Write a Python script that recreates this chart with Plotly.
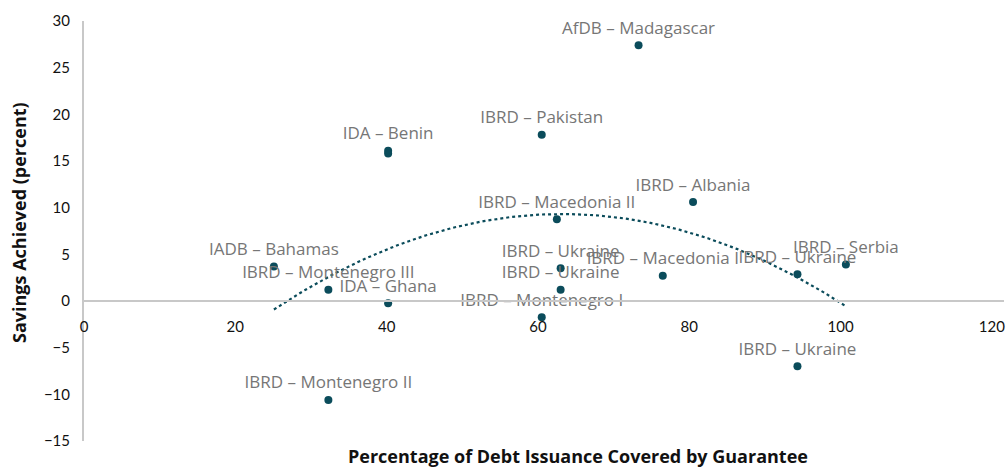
import numpy as np
import plotly.graph_objects as go

labels = ["AfDB – Madagascar", "IBRD – Pakistan", "IDA – Benin", "", "IBRD – Macedonia II",
          "IBRD – Albania", "IBRD – Serbia", "IBRD – Ukraine", "IBRD – Ukraine",
          "IBRD – Macedonia I", "IBRD – Ukraine", "IBRD – Ukraine", "IBRD – Montenegro I",
          "IDA – Ghana", "IBRD – Montenegro III", "IADB – Bahamas", "IBRD – Montenegro II"]
coverage = [73.3, 60.5, 40.2, 40.2, 62.5, 80.5, 100.7, 94.3, 94.3, 76.5, 63.0, 63.0, 60.5,
            40.2, 32.3, 25.1, 32.3]
savings = [27.4, 17.8, 16.1, 15.8, 8.75, 10.6, 3.9, 2.86, -7.0, 2.7, 3.5, 1.2, -1.75,
           -0.25, 1.2, 3.7, -10.6]

x_ticks = [0, 20, 40, 60, 80, 100, 120]
y_ticks = [-15, -10, -5, 0, 5, 10, 15, 20, 25, 30]

dot_color = "#0b4c5b"
tick_font = "Lato, 'Open Sans', sans-serif"
label_font = "'Open Sans', Lato, sans-serif"

# 2nd-order polynomial trendline fitted to the data
coef = np.polyfit(coverage, savings, 2)
tx = np.linspace(min(coverage), max(coverage), 200)
ty = np.polyval(coef, tx)

fig = go.Figure()
fig.add_trace(go.Scatter(x=tx, y=ty, mode="lines",
                         line=dict(color=dot_color, width=2.2, dash="dot"),
                         hoverinfo="skip", showlegend=False))
fig.add_trace(go.Scatter(x=coverage, y=savings, mode="markers",
                         marker=dict(color=dot_color, size=8),
                         showlegend=False, cliponaxis=False))
fig.add_trace(go.Scatter(x=coverage, y=savings, mode="markers+text",
                         text=labels, textposition="top center",
                         textfont=dict(family=label_font, size=17, color="#767676"),
                         marker=dict(size=10, opacity=0),
                         hoverinfo="skip", showlegend=False, cliponaxis=False))

fig.update_layout(
    width=1006, height=467,
    margin=dict(l=84, r=2, t=21, b=26),
    paper_bgcolor="white", plot_bgcolor="white",
    font=dict(family=tick_font, size=15, color="#111111"),
    xaxis=dict(range=[0, 121.6], tickvals=x_ticks, showgrid=False, zeroline=False,
               showline=True, linecolor="#c8c8c8", linewidth=2, automargin=False,
               anchor="free", position=1/3, ticks="", ticklabelstandoff=12,
               tickfont=dict(size=15, color="#111111")),
    yaxis=dict(range=[-15, 30], tickvals=y_ticks, showgrid=False, zeroline=False,
               showline=True, linecolor="#c8c8c8", linewidth=2, ticks="", automargin=False,
               ticklabelstandoff=9, tickfont=dict(size=15, color="#111111")),
    annotations=[
        dict(text="<b>Percentage of Debt Issuance Covered by Guarantee</b>",
             xref="paper", yref="paper", x=(578 - 84) / 920, y=-(456 - 441) / 420,
             xanchor="center", yanchor="middle", showarrow=False,
             font=dict(family=label_font, size=18, color="#111111")),
        dict(text="<b>Savings Achieved (percent)</b>",
             xref="paper", yref="paper", x=-(84 - 19) / 920, y=(441 - 223) / 420,
             xanchor="center", yanchor="middle", showarrow=False, textangle=-90,
             font=dict(family=label_font, size=18, color="#111111")),
    ],
)

# remove the default page margin so the figure fills the window exactly
fig.write_html("out.html", config={"displayModeBar": False},
               post_script="document.body.style.margin='0';document.body.style.overflow='hidden';")
